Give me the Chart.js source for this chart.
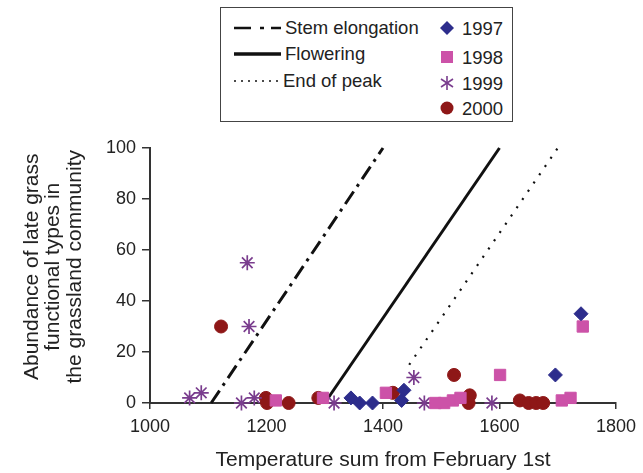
<!DOCTYPE html>
<html>
<head>
<meta charset="utf-8">
<script src="https://cdn.jsdelivr.net/npm/chart.js@4"></script>
<style>
  body { margin: 0; background: #fff; }
  #wrap { position: relative; width: 643px; height: 473px; font-family: "Liberation Sans", Arial, sans-serif; color: #222; }
  #legend { position: absolute; left: 220px; top: 7px; width: 293px; height: 115px; box-sizing: border-box; border: 1.5px solid #444; background: #fff; }
  .item { position: absolute; height: 24px; line-height: 24px; font-size: 18.5px; white-space: nowrap; }
  .item svg { position: absolute; top: 0; }
  .item span { position: absolute; }
</style>
</head>
<body>
<div id="wrap">
  <canvas id="chart" width="643" height="473"></canvas>
  <div id="legend"></div>
</div>
<script>
// waarden
let xTicks = [1000, 1200, 1400, 1600, 1800];
let yTicks = [0, 20, 40, 60, 80, 100];

let temp1997 = [1345, 1360, 1382, 1432, 1436, 1696, 1740];
let abund1997 = [2, 0, 0, 1, 5, 11, 35];
let temp1998 = [1216, 1297, 1405, 1490, 1505, 1520, 1533, 1601, 1707, 1722, 1743];
let abund1998 = [1, 2, 4, 0, 0, 1, 2, 11, 1, 2, 30];
let temp1999 = [1068, 1088, 1157, 1167, 1170, 1179, 1316, 1453, 1471, 1587];
let abund1999 = [2, 4, 0, 55, 30, 2, 0, 10, 0, 0];
let temp2000 = [1122, 1199, 1201, 1238, 1289, 1417, 1522, 1547, 1549, 1635, 1650, 1663, 1675];
let abund2000 = [30, 2, 0, 0, 2, 4, 11, 0, 3, 1, 0, 0, 0];

// de drie fenologische lijnen
let stemTemp = [1105, 1400];
let stemAbund = [0, 100];
let flowerTemp = [1300, 1600];
let flowerAbund = [0, 100];
let peakTemp = [1445, 1700];
let peakAbund = [15, 100];

let toPoints = (xs, ys) => xs.map((x, i) => ({ x: x, y: ys[i] }));

let font = '"Liberation Sans", Arial, sans-serif';

let lineSet = (label, xs, ys, width, dash) => ({
  label: label,
  data: toPoints(xs, ys),
  showLine: true,
  borderColor: '#111',
  borderWidth: width,
  borderDash: dash,
  pointRadius: 0,
  clip: false,
  order: 2
});

let pointSet = (label, xs, ys, style, color, radius, fill) => ({
  label: label,
  data: toPoints(xs, ys),
  pointStyle: style,
  pointRadius: radius,
  pointBackgroundColor: fill ? color : 'transparent',
  pointBorderColor: color,
  pointBorderWidth: fill ? 1 : 1.7,
  showLine: false,
  clip: false,
  order: 1
});

new Chart(document.getElementById('chart'), {
  type: 'scatter',
  data: {
    datasets: [
      lineSet('Stem elongation', stemTemp, stemAbund, 3, [15, 6, 3, 6]),
      lineSet('Flowering', flowerTemp, flowerAbund, 3, []),
      lineSet('End of peak', peakTemp, peakAbund, 2.2, [2, 8]),
      pointSet('1997', temp1997, abund1997, 'rectRot', '#2d2d8c', 7, true),
      pointSet('1998', temp1998, abund1998, 'rect', '#cc52a8', 8, true),
      pointSet('1999', temp1999, abund1999, 'star', '#7a3d8e', 7.5, false),
      pointSet('2000', temp2000, abund2000, 'circle', '#8e1717', 6.5, true)
    ]
  },
  options: {
    responsive: false,
    animation: false,
    devicePixelRatio: 1,
    layout: { padding: { left: 0, right: 23, top: 148, bottom: 0 } },
    plugins: { legend: { display: false }, tooltip: { enabled: false } },
    scales: {
      x: {
        type: 'linear',
        min: 1000,
        max: 1800,
        afterBuildTicks: axis => { axis.ticks = xTicks.map(v => ({ value: v })); },
        afterFit: scale => { scale.height = 70; },
        grid: { drawOnChartArea: false, drawTicks: true, tickLength: 6, color: '#333', lineWidth: 1.5 },
        border: { color: '#333', width: 2 },
        ticks: { color: '#222', padding: 7, maxRotation: 0, font: { family: font, size: 18 }, callback: v => String(v) },
        title: { display: true, text: 'Temperature sum from February 1st', color: '#222', padding: { top: 0, bottom: 1 }, font: { family: font, size: 21, lineHeight: 1.15 } }
      },
      y: {
        type: 'linear',
        min: 0,
        max: 100,
        afterBuildTicks: axis => { axis.ticks = yTicks.map(v => ({ value: v })); },
        afterFit: scale => { scale.width = 150; },
        grid: { drawOnChartArea: false, drawTicks: true, tickLength: 8, color: '#333', lineWidth: 1.5 },
        border: { color: '#333', width: 2 },
        ticks: { color: '#222', padding: 6, font: { family: font, size: 18 }, callback: v => String(v) },
        title: {
          display: true,
          // voorloopspaties schuiven de tekst iets omhoog, zoals in het origineel
          text: ['   Abundance of late grass', '   functional types in', '   the grassland community'],
          color: '#222',
          padding: { top: 21, bottom: 0 },
          font: { family: font, size: 21, lineHeight: 1.03 }
        }
      }
    }
  }
});

// legenda in twee kolommen, zoals in de figuur
let legend = document.getElementById('legend');
let lineNames = ['Stem elongation', 'Flowering', 'End of peak'];
let lineDash = ['17 9 4 7 10 10', '', '2 5'];
let lineWidth = [2.5, 3.5, 1.6];
let lineRows = [8, 34, 61];
for (let i = 0; i < lineNames.length; i++) {
  legend.innerHTML += `<div class="item" style="left:12px;top:${lineRows[i]}px;width:200px">
    <svg width="50" height="24" style="left:0"><line x1="1" y1="12" x2="48" y2="12" stroke="#111" stroke-width="${lineWidth[i]}" stroke-dasharray="${lineDash[i]}"/></svg>
    <span style="left:${i == 2 ? 50 : 52}px">${lineNames[i]}</span></div>`;
}
let yearNames = ['1997', '1998', '1999', '2000'];
let yearMarks = [
  '<polygon points="10,4 17,11 10,18 3,11" fill="#2d2d8c"/>',
  '<rect x="4" y="5" width="12" height="12" fill="#cc52a8"/>',
  '<g stroke="#7a3d8e" stroke-width="1.6"><line x1="10" y1="4" x2="10" y2="18"/><line x1="4" y1="7" x2="16" y2="15"/><line x1="4" y1="15" x2="16" y2="7"/></g>',
  '<circle cx="10" cy="11" r="6.5" fill="#8e1717"/>'
];
let yearRows = [9, 38, 64, 89];
for (let i = 0; i < yearNames.length; i++) {
  legend.innerHTML += `<div class="item" style="left:216px;top:${yearRows[i]}px;width:75px">
    <svg width="22" height="24" style="left:0">${yearMarks[i]}</svg>
    <span style="left:25px">${yearNames[i]}</span></div>`;
}
</script>
</body>
</html>
